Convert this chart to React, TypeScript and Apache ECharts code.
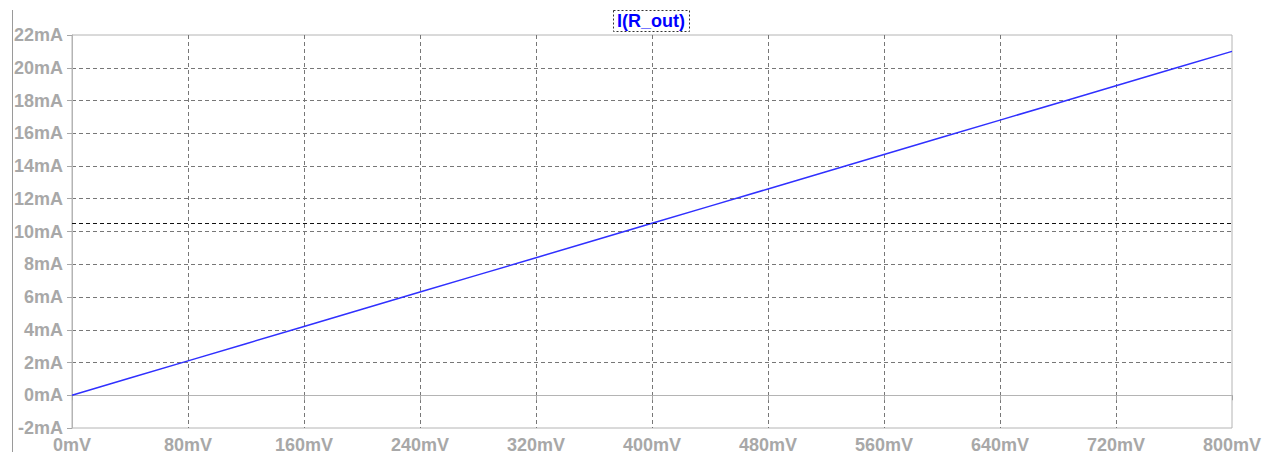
import React, { useEffect, useRef } from "react";
import * as echarts from "echarts";

const voltages = [0, 40, 80, 120, 160, 200, 240, 280, 320, 360, 400, 440, 480, 520, 560, 600, 640, 680, 720, 760, 800];
const currents = [0, 1.05, 2.1, 3.15, 4.2, 5.25, 6.3, 7.35, 8.4, 9.45, 10.5, 11.55, 12.6, 13.65, 14.7, 15.75, 16.8, 17.85, 18.9, 19.95, 21.0];
const cursorLevel = 10.5;
const traceName = "I(R_out)";

export default function App() {
  const ref = useRef<HTMLDivElement>(null);
  useEffect(() => {
    if (!ref.current) return;
    const chart = echarts.init(ref.current, null, { renderer: "svg" });
    const gray = "#a6a6a6";
    const labelStyle = {
      color: "#a8a8a8",
      fontFamily: "Liberation Sans, Arial, sans-serif",
      fontSize: 18,
      fontWeight: "bold" as const,
    };
    chart.setOption({
      animation: false,
      backgroundColor: "#ffffff",
      grid: {
        left: 72,
        right: 39,
        top: 35,
        bottom: 30,
        show: true,
        borderColor: "#b4b4b4",
        borderWidth: 1,
      },
      xAxis: {
        type: "value",
        min: 0,
        max: 800,
        interval: 80,
        axisLine: { show: true, lineStyle: { color: "#b4b4b4" } },
        axisTick: { show: true, length: 5, lineStyle: { color: gray } },
        axisLabel: { ...labelStyle, margin: 8, formatter: (v: number) => `${v}mV` },
        splitLine: {
          show: true,
          showMinLine: false,
          showMaxLine: false,
          lineStyle: { color: "#777777", type: [4, 3], width: 1 },
        },
      },
      yAxis: {
        type: "value",
        min: -2,
        max: 22,
        interval: 2,
        axisLine: { show: true, lineStyle: { color: "#b4b4b4" } },
        axisTick: { show: true, length: 5, lineStyle: { color: gray } },
        axisLabel: { ...labelStyle, margin: 9, formatter: (v: number) => `${v}mA` },
        splitLine: {
          show: true,
          showMinLine: false,
          showMaxLine: false,
          lineStyle: { color: "#777777", type: [4, 3], width: 1 },
        },
      },
      series: [
        {
          type: "line",
          name: traceName,
          data: voltages.map((v, i) => [v, currents[i]]),
          showSymbol: false,
          lineStyle: { color: "#3030ff", width: 1.5 },
          markLine: {
            silent: true,
            symbol: ["none", "none"],
            label: { show: false },
            lineStyle: { color: "#111111", type: [4, 3], width: 1 },
            data: [{ yAxis: cursorLevel }],
          },
        },
      ],
      graphic: [
        {
          type: "line",
          shape: { x1: 12.5, y1: 10, x2: 12.5, y2: 452 },
          style: { stroke: "#9a9a9a", lineWidth: 1 },
        },
        {
          type: "rect",
          shape: { x: 613.5, y: 10.5, width: 76, height: 21 },
          style: { fill: "none", stroke: "#333333", lineWidth: 1, lineDash: [2, 2] },
        },
        {
          type: "text",
          x: 651,
          y: 21,
          style: {
            text: traceName,
            fill: "#0000ff",
            font: "bold 18px Liberation Sans, Arial, sans-serif",
            align: "center",
            verticalAlign: "middle",
          },
        },
      ],
    });
    return () => chart.dispose();
  }, []);
  return (
    <div
      ref={ref}
      style={{ position: "fixed", left: 0, top: 0, width: 1271, height: 458 }}
    />
  );
}
